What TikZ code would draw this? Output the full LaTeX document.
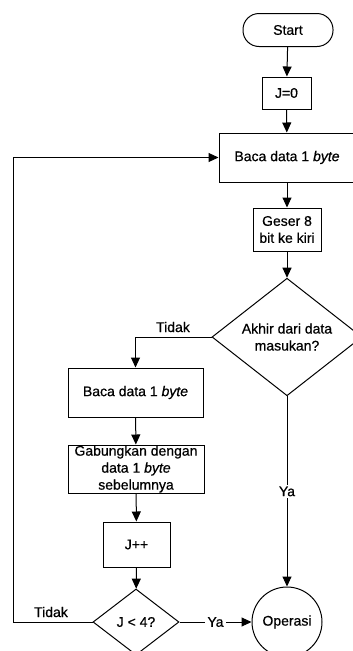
\documentclass[tikz,border=0pt]{standalone}
\usepackage{fontspec}
\setmainfont{Liberation Sans}[FakeBold=0.6]
\usetikzlibrary{shapes.geometric,arrows.meta}
\begin{document}
\begin{tikzpicture}[x=1pt,y=-1pt,
  every node/.style={font=\fontsize{14}{17}\selectfont, inner sep=0pt, align=center},
  box/.style={draw, rectangle, line width=1pt},
  decision/.style={draw, diamond, line width=1pt},
  flow/.style={draw, line width=1pt, -{Triangle[length=10pt,width=9pt]}},
  lbl/.style={fill=white, inner xsep=2.5pt, inner ysep=2pt}]
\clip (0,0) rectangle (353,651);
\fill[white] (0,0) rectangle (353,651);

% main column
\node[box, rounded corners=16pt, minimum width=90, minimum height=33] (start) at (288,30) {Start};
\node[box, minimum width=49, minimum height=32] (j0) at (286.5,93) {J=0};
\node[box, minimum width=136, minimum height=49] (baca1) at (287,157.5) {Baca data 1 \textit{byte}};
\node[box, minimum width=68, minimum height=43] (geser) at (287,229.5) {Geser 8\\bit ke kiri};
\node[decision, minimum width=150, minimum height=113] (akhir) at (287,337) {Akhir dari data\\masukan?};

% left column
\node[box, minimum width=135, minimum height=49] (baca2) at (135.5,392.5) {Baca data 1 \textit{byte}};
\node[box, minimum width=136, minimum height=48] (gab) at (136,469) {Gabungkan dengan\\data 1 \textit{byte}\\sebelumnya};
\node[box, minimum width=67, minimum height=45] (jpp) at (136.5,544.5) {J++};
\node[decision, minimum width=86, minimum height=66] (cek) at (136,622) {J < 4?};

% end
\node[draw, circle, line width=1pt, minimum size=70] (ops) at (287,622) {Operasi};

% connectors
\draw[flow] (start) -- (j0);
\draw[flow] (j0) -- (baca1);
\draw[flow] (baca1) -- (geser);
\draw[flow] (geser) -- (akhir);
\draw[flow] (akhir.west) -| (baca2.north);
\node (tidak1) at (173,327) {Tidak};
\draw[flow] (baca2) -- (gab);
\draw[flow] (gab) -- (jpp);
\draw[flow] (jpp) -- (cek);
\coordinate (loop) at (13,622);
\draw[flow] (cek.west) -- (loop) |- (baca1.west);
\node (tidak2) at (51,612) {Tidak};
\draw[flow] (cek.east) -- (ops.west) node[lbl, midway] (ya2) {Ya};
\draw[flow] (akhir.south) -- (ops.north) node[lbl, midway] (ya1) {Ya};
\end{tikzpicture}
\end{document}
